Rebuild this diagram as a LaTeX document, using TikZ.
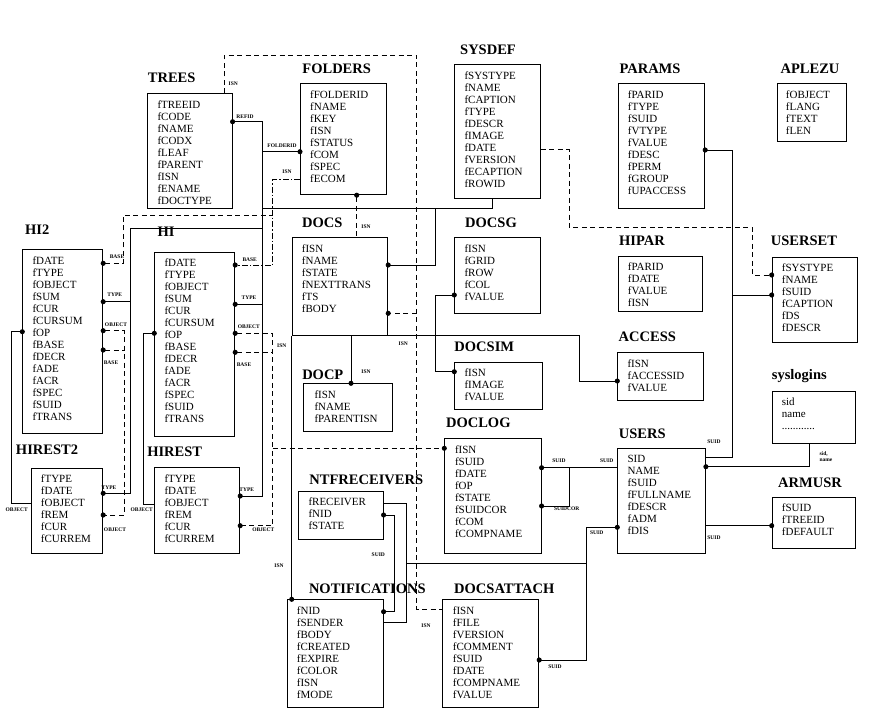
\documentclass[tikz,border=0pt]{standalone}
\usepackage{fontspec}
\setmainfont{Liberation Serif}
\usetikzlibrary{positioning,arrows.meta}
\tikzset{
  tbl/.style={draw,line width=0.9pt,anchor=north west,inner sep=0pt},
  fld/.style={anchor=north west,align=left,inner sep=0pt,font=\fontsize{11}{12}\selectfont},
  ttl/.style={inner sep=0pt,font=\fontsize{14.5}{16}\selectfont\bfseries},
  lbl/.style={inner sep=0pt,font=\fontsize{5.5}{6}\selectfont\bfseries},
  lnk/.style={line width=0.9pt},
  rel/.style={line width=0.9pt,dash pattern=on 5pt off 3.5pt},
  reldd/.style={line width=0.9pt,dash pattern=on 6pt off 2pt on 1.5pt off 2pt},
  tipe/.style={-{Circle[length=5pt]},shorten >=-2.5pt},
  tips/.style={{Circle[length=5pt]}-,shorten <=-2.5pt},
  tipse/.style={{Circle[length=5pt]}-{Circle[length=5pt]},shorten <=-2.5pt,shorten >=-2.5pt}
}
\begin{document}
\begin{tikzpicture}[x=1pt,y=-1pt]
  \useasboundingbox (0,0) rectangle (876,721);
  % tables
  \node[tbl,minimum width=84.4pt,minimum height=115pt] (trees) at (147.3,93.3) {};
  \node[fld,below right=6.8pt and 10pt of trees.north west] (trees-f) {fTREEID\\fCODE\\fNAME\\fCODX\\fLEAF\\fPARENT\\fISN\\fENAME\\fDOCTYPE};
  \node[ttl] (trees-t) at (171.7,78) {TREES};
  \node[tbl,minimum width=85.7pt,minimum height=111pt] (folders) at (300,83.3) {};
  \node[fld,below right=6.8pt and 10pt of folders.north west] (folders-f) {fFOLDERID\\fNAME\\fKEY\\fISN\\fSTATUS\\fCOM\\fSPEC\\fECOM};
  \node[ttl] (folders-t) at (336.7,68.3) {FOLDERS};
  \node[tbl,minimum width=85.7pt,minimum height=133.4pt] (sysdef) at (454.3,64.3) {};
  \node[fld,below right=6.8pt and 10pt of sysdef.north west] (sysdef-f) {fSYSTYPE\\fNAME\\fCAPTION\\fTYPE\\fDESCR\\fIMAGE\\fDATE\\fVERSION\\fECAPTION\\fROWID};
  \node[ttl] (sysdef-t) at (488,50) {SYSDEF};
  \node[tbl,minimum width=86.6pt,minimum height=124.4pt] (params) at (617.7,83.3) {};
  \node[fld,below right=6.8pt and 10pt of params.north west] (params-f) {fPARID\\fTYPE\\fSUID\\fVTYPE\\fVALUE\\fDESC\\fPERM\\fGROUP\\fUPACCESS};
  \node[ttl] (params-t) at (650,68.3) {PARAMS};
  \node[tbl,minimum width=69.3pt,minimum height=57.4pt] (aplezu) at (776.7,83.3) {};
  \node[fld,below right=6.8pt and 9pt of aplezu.north west] (aplezu-f) {fOBJECT\\fLANG\\fTEXT\\fLEN};
  \node[ttl] (aplezu-t) at (810,68.3) {APLEZU};
  \node[tbl,minimum width=84.6pt,minimum height=54.7pt] (hipar) at (617.7,256) {};
  \node[fld,below right=6.8pt and 10pt of hipar.north west] (hipar-f) {fPARID\\fDATE\\fVALUE\\fISN};
  \node[ttl] (hipar-t) at (642,241) {HIPAR};
  \node[tbl,minimum width=85.6pt,minimum height=85.6pt] (userset) at (771.7,256.7) {};
  \node[fld,below right=6.8pt and 10pt of userset.north west] (userset-f) {fSYSTYPE\\fNAME\\fSUID\\fCAPTION\\fDS\\fDESCR};
  \node[ttl] (userset-t) at (804,241) {USERSET};
  \node[tbl,minimum width=85.4pt,minimum height=47.7pt] (access) at (617.3,352.3) {};
  \node[fld,below right=6.8pt and 10pt of access.north west] (access-f) {fISN\\fACCESSID\\fVALUE};
  \node[ttl] (access-t) at (647.3,336.7) {ACCESS};
  \node[tbl,minimum width=83.3pt,minimum height=52.6pt] (syslogins) at (771.7,390.7) {};
  \node[fld,below right=6.8pt and 10pt of syslogins.north west] (syslogins-f) {sid\\name\\............};
  \node[ttl] (syslogins-t) at (799.3,376) {syslogins};
  \node[tbl,minimum width=87.7pt,minimum height=104.4pt] (users) at (617.3,448.3) {};
  \node[fld,below right=6.8pt and 10pt of users.north west] (users-f) {SID\\NAME\\fSUID\\fFULLNAME\\fDESCR\\fADM\\fDIS};
  \node[ttl] (users-t) at (642.3,433.3) {USERS};
  \node[tbl,minimum width=83.3pt,minimum height=51pt] (armusr) at (771.7,496.7) {};
  \node[fld,below right=6.8pt and 10pt of armusr.north west] (armusr-f) {fSUID\\fTREEID\\fDEFAULT};
  \node[ttl] (armusr-t) at (810,482.3) {ARMUSR};
  \node[tbl,minimum width=80pt,minimum height=183.4pt] (hi2) at (22.3,249.3) {};
  \node[fld,below right=6.8pt and 10pt of hi2.north west] (hi2-f) {fDATE\\fTYPE\\fOBJECT\\fSUM\\fCUR\\fCURSUM\\fOP\\fBASE\\fDECR\\fADE\\fACR\\fSPEC\\fSUID\\fTRANS};
  \node[ttl] (hi2-t) at (37.3,229.3) {HI2};
  \node[tbl,minimum width=80pt,minimum height=184.3pt] (hi) at (154.3,251.7) {};
  \node[fld,below right=6.8pt and 10pt of hi.north west] (hi-f) {fDATE\\fTYPE\\fOBJECT\\fSUM\\fCUR\\fCURSUM\\fOP\\fBASE\\fDECR\\fADE\\fACR\\fSPEC\\fSUID\\fTRANS};
  \node[ttl] (hi-t) at (166,231.7) {HI};
  \node[tbl,minimum width=71.6pt,minimum height=85.6pt] (hirest2) at (30.7,467.7) {};
  \node[fld,below right=6.8pt and 10pt of hirest2.north west] (hirest2-f) {fTYPE\\fDATE\\fOBJECT\\fREM\\fCUR\\fCURREM};
  \node[ttl] (hirest2-t) at (47,450) {HIREST2};
  \node[tbl,minimum width=85pt,minimum height=85.4pt] (hirest) at (154.3,467.3) {};
  \node[fld,below right=6.8pt and 10pt of hirest.north west] (hirest-f) {fTYPE\\fDATE\\fOBJECT\\fREM\\fCUR\\fCURREM};
  \node[ttl] (hirest-t) at (174.7,451.7) {HIREST};
  \node[tbl,minimum width=95.6pt,minimum height=97.7pt] (docs) at (291.7,237.3) {};
  \node[fld,below right=6.8pt and 10pt of docs.north west] (docs-f) {fISN\\fNAME\\fSTATE\\fNEXTTRANS\\fTS\\fBODY};
  \node[ttl] (docs-t) at (322.3,222.7) {DOCS};
  \node[tbl,minimum width=85.7pt,minimum height=76pt] (docsg) at (454.3,237.3) {};
  \node[fld,below right=6.8pt and 10pt of docsg.north west] (docsg-f) {fISN\\fGRID\\fROW\\fCOL\\fVALUE};
  \node[ttl] (docsg-t) at (491,222.7) {DOCSG};
  \node[tbl,minimum width=88pt,minimum height=47.3pt] (docsim) at (454.3,361.7) {};
  \node[fld,below right=6.8pt and 10pt of docsim.north west] (docsim-f) {fISN\\fIMAGE\\fVALUE};
  \node[ttl] (docsim-t) at (484.3,346.7) {DOCSIM};
  \node[tbl,minimum width=89pt,minimum height=47.7pt] (docp) at (303.3,383.3) {};
  \node[fld,below right=6.8pt and 11pt of docp.north west] (docp-f) {fISN\\fNAME\\fPARENTISN};
  \node[ttl] (docp-t) at (322.8,375) {DOCP};
  \node[tbl,minimum width=96.4pt,minimum height=115pt] (doclog) at (444.3,438.3) {};
  \node[fld,below right=6.8pt and 10.5pt of doclog.north west] (doclog-f) {fISN\\fSUID\\fDATE\\fOP\\fSTATE\\fSUIDCOR\\fCOM\\fCOMPNAME};
  \node[ttl] (doclog-t) at (478.3,422.7) {DOCLOG};
  \node[tbl,minimum width=84.4pt,minimum height=48pt] (ntf) at (298.3,491) {};
  \node[fld,below right=6.8pt and 10pt of ntf.north west] (ntf-f) {fRECEIVER\\fNID\\fSTATE};
  \node[ttl] (ntf-t) at (366.3,480) {NTFRECEIVERS};
  \node[tbl,minimum width=96pt,minimum height=107.4pt] (notif) at (286.7,599.3) {};
  \node[fld,below right=6.8pt and 10pt of notif.north west] (notif-f) {fNID\\fSENDER\\fBODY\\fCREATED\\fEXPIRE\\fCOLOR\\fISN\\fMODE};
  \node[ttl] (notif-t) at (367.3,588.3) {NOTIFICATIONS};
  \node[tbl,minimum width=96pt,minimum height=107.4pt] (docsattach) at (442.3,599.3) {};
  \node[fld,below right=6.8pt and 10.4pt of docsattach.north west] (docsattach-f) {fISN\\fFILE\\fVERSION\\fCOMMENT\\fSUID\\fDATE\\fCOMPNAME\\fVALUE};
  \node[ttl] (docsattach-t) at (504.3,588.3) {DOCSATTACH};
  % junctions
  \coordinate (jfold) at (262.3,151.7);
  \coordinate (jsys) at (262.3,208.3);
  \coordinate (jdocs) at (435.7,208.3);
  \coordinate (jhi2) at (262.3,228.3);
  \coordinate (jhi2t) at (130,301.7);
  \coordinate (jhi) at (262.3,304.3);
  \coordinate (jntf) at (406.7,563.3);
  \coordinate (jdsa) at (586,563.3);
  \coordinate (jcor) at (569.3,467.7);
  \coordinate (jpar) at (732.3,295);
  \coordinate (jbody) at (416.7,313.3);
  \coordinate (jbase) at (272.7,215);
  \coordinate (jhib) at (272.7,352.3);
  \coordinate (jlog) at (272.7,448.3);
  \coordinate (jhi2b) at (124.3,350);
  % solid links
  \draw[lnk,tipse] (trees.east |- 0,121.7) -| (262.3,496) -- (hirest.east |- 0,496);
  \draw[lnk,tipe] (jfold) -- (folders.west |- jfold);
  \draw[lnk] (jsys) -| (sysdef.south -| 492.7,0);
  \draw[lnk,tipe] (jdocs) |- (docs.east |- 0,265);
  \draw[lnk,tipe] (jhi2) -| (130,493.3) -- (hirest2.east |- 0,493.3);
  \draw[lnk,tipe] (jhi2t) -- (hi2.east |- jhi2t);
  \draw[lnk,tipe] (jhi) -- (hi.east |- jhi);
  \draw[lnk,tips] (hi.west |- 0,333.3) -| (143.3,504) -- (hirest.west |- 0,504);
  \draw[lnk,tips] (hi2.west |- 0,331.7) -| (11.7,503.3) -- (hirest2.west |- 0,503.3);
  \draw[lnk,tipe] (docs.south -| 351,0) -- (docp.north -| 351,0);
  \draw[lnk,tipe] (docs.south east) -| (579.3,381) -- (access.west |- 0,381);
  \draw[lnk,tipse] (docsg.west |- 0,295) -| (435.7,371.7) -- (docsim.west |- 0,371.7);
  \draw[lnk,tipe] (docs.south west) -- (notif.north -| docs.south west);
  \draw[lnk] (ntf.east |- 0,503) -| (406.7,622.7) -- (notif.east |- 0,622.7);
  \draw[lnk,tipse] (users.west |- 0,527.3) -| (586,660) -- (docsattach.east |- 0,660);
  \draw[lnk] (jntf) -- (jdsa);
  \draw[lnk,tipse] (ntf.east |- 0,515) -| (394.3,611.7) -- (notif.east |- 0,611.7);
  \draw[lnk,tips] (doclog.east |- jcor) -- (users.west |- jcor);
  \draw[lnk,tipe] (jcor) |- (doclog.east |- 0,506);
  \draw[lnk,tipe] (users.east |- 0,525.7) -- (armusr.west |- 0,525.7);
  \draw[lnk,tips] (users.east |- 0,466.7) -| (syslogins.south -| 809.3,0);
  \draw[lnk,tipe] (users.east |- 0,457.3) -| (732.3,150) -- (params.east |- 0,150);
  \draw[lnk,tipe] (jpar) -- (userset.west |- jpar);
  % dashed links
  \draw[rel] (trees.north -| 224.3,0) |- (416.7,55) |- (docsattach.west |- 0,609.3);
  \draw[rel,tipe] (jbody) -- (docs.east |- jbody);
  \draw[rel,tips] (folders.south -| 356.7,0) -- (docs.north -| 356.7,0);
  \draw[reldd,tipe] (folders.west |- 0,179.3) -| (272.7,265) -- (hi.east |- 0,265);
  \draw[rel,tips] (hi2.east |- 0,263.3) -| (123.3,215) -- (jbase);
  \draw[rel,tipse] (hi.east |- 0,333.3) -| (272.7,525.7) -- (hirest.east |- 0,525.7);
  \draw[rel,tips] (hi.east |- jhib) -- (jhib);
  \draw[rel,tipe] (jlog) -- (doclog.west |- jlog);
  \draw[rel,tipse] (hi2.east |- 0,330.7) -| (124.3,515) -- (hirest2.east |- 0,515);
  \draw[rel,tips] (hi2.east |- jhi2b) -- (jhi2b);
  \draw[rel,tipe] (sysdef.east |- 0,149.3) -| (569,227.3) -| (752.3,275) -- (userset.west |- 0,275);
  % link labels
  \node[lbl] (l1) at (245,117) {REFID};
  \node[lbl] (l2) at (282,146) {FOLDERID};
  \node[lbl] (l3) at (233.3,83.3) {ISN};
  \node[lbl] (l4) at (287,172) {ISN};
  \node[lbl] (l5) at (366,227) {ISN};
  \node[lbl] (l6) at (366,371.7) {ISN};
  \node[lbl] (l7) at (403.3,343.3) {ISN};
  \node[lbl] (l8) at (279,566) {ISN};
  \node[lbl] (l9) at (426,625.7) {ISN};
  \node[lbl] (l10) at (281.7,345.7) {ISN};
  \node[lbl] (l11) at (117,256.7) {BASE};
  \node[lbl] (l12) at (114.7,295) {TYPE};
  \node[lbl] (l13) at (116,325) {OBJECT};
  \node[lbl] (l14) at (111,362.3) {BASE};
  \node[lbl] (l15) at (249.7,259.3) {BASE};
  \node[lbl] (l16) at (249,297.7) {TYPE};
  \node[lbl] (l17) at (248.8,326.7) {OBJECT};
  \node[lbl] (l18) at (244,364.3) {BASE};
  \node[lbl] (l19) at (109,487.3) {TYPE};
  \node[lbl] (l20) at (115,530) {OBJECT};
  \node[lbl] (l21) at (16.7,510) {OBJECT};
  \node[lbl] (l22) at (141.7,510) {OBJECT};
  \node[lbl] (l23) at (246.7,489.3) {TYPE};
  \node[lbl] (l24) at (263.3,530) {OBJECT};
  \node[lbl] (l25) at (378.3,554.3) {SUID};
  \node[lbl] (l26) at (596.7,532.3) {SUID};
  \node[lbl] (l27) at (555,666.7) {SUID};
  \node[lbl] (l28) at (559,460.7) {SUID};
  \node[lbl] (l29) at (606.7,460.7) {SUID};
  \node[lbl] (l30) at (566.7,508.3) {SUIDCOR};
  \node[lbl] (l31) at (714,537.3) {SUID};
  \node[lbl] (l32) at (714,441.7) {SUID};
  \node[lbl,align=left] (l33) at (826,456.5) {sid,\\name};
\end{tikzpicture}
\end{document}
